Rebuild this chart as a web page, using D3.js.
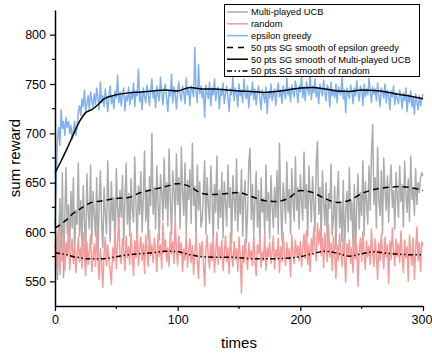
<!DOCTYPE html>
<html>
<head>
<meta charset="utf-8">
<script src="https://cdn.jsdelivr.net/npm/d3@7"></script>
<style>
  body { margin: 0; background: #fff; }
  svg { display: block; font-family: "Liberation Sans", Arial, sans-serif; }
</style>
</head>
<body>
<div id="chart"></div>
<script>
// ---- data ----
const ucb = [
  612, 588, 552, 596, 634, 571, 660, 554, 618, 665, 598, 627, 583, 641, 604, 655, 578, 622, 608, 670,
  596, 632, 585, 647, 612, 575, 659, 620, 603, 668, 588, 641, 617, 596, 655, 571, 630, 662, 609, 584,
  645, 618, 598, 672, 626, 590, 651, 612, 635, 580, 664, 624, 603, 642, 615, 657, 586, 633, 670, 608,
  639, 596, 654, 622, 610, 676, 628, 590, 647, 618, 661, 600, 635, 682, 611, 643, 592, 656, 627, 700,
  618, 645, 603, 667, 630, 592, 658, 641, 612, 675, 624, 650, 606, 684, 632, 597, 662, 640, 615, 679,
  628, 655, 603, 686, 641, 617, 670, 598, 652, 633, 663, 609, 690, 627, 646, 592, 668, 622, 651, 605,
  612, 640, 672, 598, 655, 628, 609, 667, 636, 590, 648, 620, 677, 603, 642, 615, 660, 594, 651, 630,
  606, 668, 625, 645, 589, 657, 632, 612, 674, 601, 640, 618, 663, 596, 635, 652, 589, 620, 671, 685,
  613, 648, 598, 630, 661, 605, 642, 587, 655, 620, 634, 598, 668, 612, 640, 593, 657, 626, 604, 645,
  615, 662, 598, 690, 627, 591, 650, 634, 609, 671, 620, 643, 598, 664, 632, 611, 676, 622, 645, 603,
  658, 630, 612, 681, 624, 648, 596, 667, 635, 610, 656, 628, 601, 672, 692, 618, 645, 590, 662, 631,
  607, 650, 588, 639, 624, 669, 597, 615, 646, 583, 633, 661, 604, 628, 590, 652, 579, 620, 641, 600,
  665, 612, 631, 584, 648, 575, 626, 659, 603, 640, 617, 672, 596, 651, 630, 608, 667, 622, 681, 709,
  628, 655, 604, 686, 633, 617, 662, 598, 675, 641, 622, 657, 610, 648, 668, 625, 642, 603, 660, 636,
  615, 667, 631, 648, 605, 672, 638, 620, 654, 611, 677, 633, 645, 617, 664, 628, 650, 640, 655, 660,
  657
];
const random = [
  588, 566, 596, 604, 557, 583, 571, 598, 561, 589, 575, 606, 562, 580, 593, 568, 585, 559, 577, 595,
  570, 584, 563, 599, 575, 556, 590, 567, 581, 597, 560, 576, 588, 565, 601, 572, 552, 583, 569, 544,
  578, 595, 566, 587, 572, 560, 547, 584, 570, 602, 563, 589, 615, 575, 568, 593, 581, 561, 596, 574,
  585, 567, 599, 578, 556, 591, 574, 603, 566, 583, 595, 571, 588, 558, 597, 579, 565, 602, 576, 587,
  569, 594, 581, 560, 598, 575, 587, 563, 609, 579, 592, 570, 584, 565, 600, 578, 590, 568, 614, 581,
  566, 596, 577, 589, 560, 583, 572, 598, 564, 581, 593, 569, 586, 557, 579, 595, 571, 553, 588, 575,
  590, 568, 545, 582, 597, 574, 563, 588, 571, 594, 559, 580, 600, 567, 585, 573, 592, 561, 578, 596,
  570, 584, 558, 599, 576, 565, 590, 572, 583, 560, 595, 577, 538, 586, 569, 593, 575, 562, 589, 573,
  581, 566, 597, 572, 556, 587, 578, 593, 564, 580, 571, 598, 561, 584, 575, 590, 568, 579, 596, 563,
  582, 574, 594, 559, 585, 570, 600, 576, 566, 589, 573, 583, 555, 597, 578, 568, 592, 575, 586, 571,
  590, 565, 584, 598, 573, 601, 567, 587, 560, 593, 578, 605, 583, 571, 609, 588, 603, 576, 594, 564,
  599, 582, 570, 607, 575, 589, 561, 596, 578, 553, 587, 571, 598, 580, 565, 593, 574, 549, 588, 576,
  592, 568, 584, 559, 596, 573, 587, 545, 581, 594, 570, 600, 577, 562, 591, 575, 586, 567, 603, 579,
  565, 593, 578, 552, 589, 571, 598, 580, 563, 595, 575, 587, 548, 591, 572, 604, 581, 566, 593, 575,
  588, 569, 601, 577, 559, 592, 574, 585, 550, 597, 578, 566, 594, 552, 582, 605, 571, 589, 560, 590,
  586
];
const epsilon = [
  605, 652, 694, 706, 688, 724, 705, 712, 698, 716, 706, 712, 700, 708, 694, 703, 712, 698, 706, 722,
  728, 718, 735, 727, 744, 722, 730, 738, 724, 742, 733, 727, 740, 729, 746, 736, 724, 752, 731, 738,
  727, 745, 734, 722, 739, 748, 730, 737, 725, 743, 736, 759, 731, 742, 728, 740, 746, 723, 738, 733,
  747, 729, 740, 735, 751, 727, 743, 738, 765, 732, 741, 724, 746, 737, 731, 749, 740, 728, 744, 755,
  736, 742, 726, 748, 739, 733, 757, 741, 729, 745, 750, 735, 722, 743, 738, 760, 731, 747, 740, 725,
  744, 752, 738, 733, 748, 741, 730, 756, 739, 745, 728, 748, 743, 737, 787, 742, 731, 770, 740, 748,
  736, 744, 716, 749, 741, 735, 752, 728, 746, 739, 755, 733, 742, 747, 725, 744, 738, 751, 730, 741,
  748, 736, 722, 745, 739, 757, 733, 746, 741, 727, 750, 738, 744, 731, 755, 740, 735, 748, 726, 743,
  739, 752, 734, 745, 729, 741, 748, 736, 724, 744, 739, 731, 747, 720, 742, 736, 750, 733, 740, 745,
  728, 743, 751, 737, 744, 730, 748, 741, 735, 756, 739, 746, 732, 749, 742, 737, 753, 744, 731, 748,
  742, 758, 736, 747, 733, 752, 745, 739, 761, 734, 748, 741, 755, 737, 746, 730, 750, 743, 738, 754,
  741, 733, 749, 745, 727, 752, 738, 744, 736, 750, 731, 747, 742, 739, 757, 735, 744, 721, 746, 740,
  735, 749, 743, 730, 746, 738, 753, 741, 733, 748, 744, 728, 750, 737, 745, 739, 756, 742, 731, 747,
  740, 745, 733, 751, 738, 727, 746, 742, 736, 750, 731, 744, 739, 724, 743, 737, 748, 729, 741, 735,
  730, 744, 737, 725, 741, 733, 746, 722, 739, 731, 743, 727, 736, 719, 740, 732, 724, 738, 728, 735,
  740
];

// smoothed curves (sampled)
const smoothT = [0, 5, 10, 15, 20, 25, 30, 35, 40, 50, 60, 70, 80, 90, 100, 110, 120, 130, 140, 150,
                 160, 170, 180, 190, 200, 210, 220, 230, 240, 250, 260, 270, 280, 290, 300];
const smoothEpsilonDash = [604, 608, 613, 619, 623, 627, 630, 631, 632, 634, 635, 640, 643, 646, 649, 646, 639, 638, 639, 640,
                           636, 632, 631, 634, 642, 640, 634, 630, 632, 639, 643, 645, 646, 645, 642];
const smoothUcbSolid = [660, 672, 685, 699, 712, 721, 724, 729, 735, 739, 741, 742, 743, 744, 743, 746.5, 745, 745, 744, 743,
                        742.5, 741.5, 742.5, 744, 746, 746.5, 745, 743, 742.5, 744, 743.5, 742, 739.5, 737.5, 735];
const smoothRandom = [579, 578, 577, 575, 574, 573, 573, 573, 573, 575, 577, 578, 579, 580.5, 580, 577, 575, 574.5, 574.5, 574,
                      573, 573, 573, 573.5, 575, 578, 580.5, 578.5, 575.5, 578, 580, 578.5, 577.5, 577, 577];

const yTicks = [550, 600, 650, 700, 750, 800];
const xTicks = [0, 100, 200, 300];
const legendLabels = ['Multi-played UCB', 'random', 'epsilon greedy',
  '50 pts SG smooth of epsilon greedy', '50 pts SG smooth of Multi-played UCB', '50 pts SG smooth of random'];

// ---- layout ----
const W = 432, H = 353;
const plotL = 55, plotR = 423, plotT = 10, plotB = 306;

const svg = d3.select('#chart').append('svg')
  .attr('width', W).attr('height', H);

const x = d3.scaleLinear().domain([0, 300]).range([plotL, plotR]);
const y = d3.scaleLinear().domain([525, 825]).range([plotB, plotT]);

// ---- noisy series ----
const line = d3.line().x((d, i) => x(i)).y(d => y(d));
const raw = [
  { data: ucb, color: '#acacac' },
  { data: random, color: '#f79a9a' },
  { data: epsilon, color: '#82b2ee' }
];
raw.forEach(s => {
  svg.append('path')
    .attr('d', line(s.data))
    .attr('fill', 'none')
    .attr('stroke', s.color)
    .attr('stroke-width', 1.5)
    .attr('stroke-linejoin', 'round');
});

// ---- smoothed series ----
const sLine = d3.line().x((d, i) => x(smoothT[i])).y(d => y(d)).curve(d3.curveMonotoneX);
const smooth = [
  { data: smoothEpsilonDash, dash: '6,4' },
  { data: smoothUcbSolid, dash: null },
  { data: smoothRandom, dash: '5,2.5,1.5,2.5,1.5,2.5' }
];
smooth.forEach(s => {
  svg.append('path')
    .attr('d', sLine(s.data))
    .attr('fill', 'none')
    .attr('stroke', '#000')
    .attr('stroke-width', 1.5)
    .attr('stroke-dasharray', s.dash);
});

// ---- axes ----
const yAxis = svg.append('g').attr('transform', 'translate(' + plotL + ',0)');
yAxis.call(d3.axisLeft(y).tickValues(yTicks).tickSize(5).tickSizeOuter(0).tickPadding(4));
yAxis.selectAll('.tick line').attr('stroke-width', 1.2);
yAxis.selectAll('line.minor').data([575, 625, 675, 725, 775]).enter().append('line')
  .attr('class', 'minor')
  .attr('x1', -3).attr('x2', 0).attr('y1', d => y(d)).attr('y2', d => y(d))
  .attr('stroke', '#000').attr('stroke-width', 1.2);

const xAxis = svg.append('g').attr('transform', 'translate(0,' + plotB + ')');
xAxis.call(d3.axisBottom(x).tickValues(xTicks).tickSize(5).tickSizeOuter(0).tickPadding(4));
xAxis.selectAll('.tick line').attr('stroke-width', 1.2);
xAxis.selectAll('line.minor').data([50, 150, 250]).enter().append('line')
  .attr('class', 'minor')
  .attr('y1', 0).attr('y2', 3).attr('x1', d => x(d)).attr('x2', d => x(d))
  .attr('stroke', '#000').attr('stroke-width', 1.2);

svg.selectAll('.domain').attr('stroke-width', 1.5);
svg.selectAll('.tick text')
  .attr('font-size', '12.5px')
  .attr('font-family', '"Liberation Sans", Arial, sans-serif')
  .attr('fill', '#000');
// keep the last x label inside the window
xAxis.selectAll('.tick text').filter(d => d === 300).attr('dx', '-1.5');

// ---- axis labels ----
svg.append('text')
  .attr('transform', 'translate(20,' + ((plotT + plotB) / 2) + ') rotate(-90)')
  .attr('text-anchor', 'middle')
  .attr('font-size', '15px')
  .text('sum reward');

svg.append('text')
  .attr('x', (plotL + plotR) / 2).attr('y', 348)
  .attr('text-anchor', 'middle')
  .attr('font-size', '15px')
  .text('times');

// ---- legend ----
const lg = svg.append('g');
lg.append('rect')
  .attr('x', 224.5).attr('y', 4.5).attr('width', 195).attr('height', 72)
  .attr('fill', '#fff').attr('stroke', '#000').attr('stroke-width', 1);

const legendStyles = [
  { color: '#acacac', dash: null, w: 1.5 },
  { color: '#f79a9a', dash: null, w: 1.5 },
  { color: '#82b2ee', dash: null, w: 1.5 },
  { color: '#000', dash: '6,5', w: 1.5 },
  { color: '#000', dash: null, w: 1.5 },
  { color: '#000', dash: '5,2.5,1.5,2.5,1.5,2.5', w: 1.5 }
];
legendLabels.forEach((lab, i) => {
  const cy = 12 + i * 11.8;
  lg.append('line')
    .attr('x1', 227).attr('x2', 248).attr('y1', cy).attr('y2', cy)
    .attr('stroke', legendStyles[i].color)
    .attr('stroke-width', legendStyles[i].w)
    .attr('stroke-dasharray', legendStyles[i].dash);
  lg.append('text')
    .attr('x', 251).attr('y', cy + 3.4)
    .attr('font-size', '9.3px')
    .text(lab);
});
</script>
</body>
</html>
